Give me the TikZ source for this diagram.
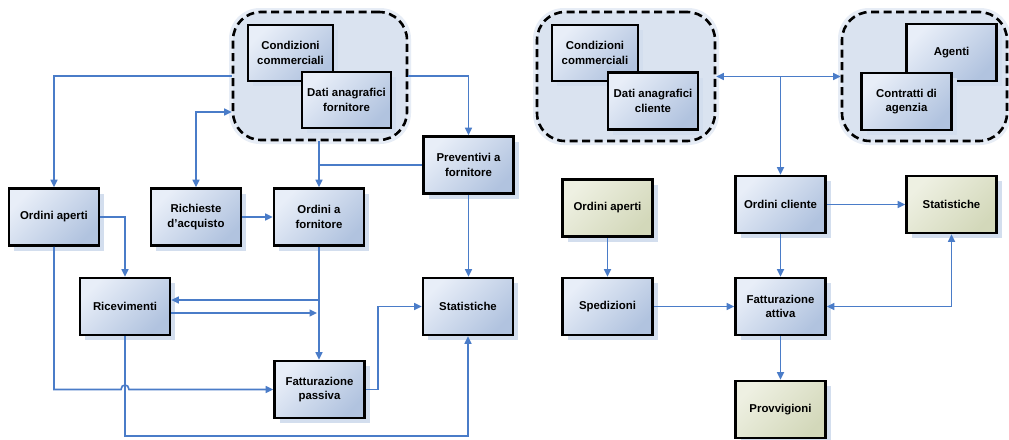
\documentclass[tikz,border=0pt]{standalone}
\usepackage{fontspec}
\setmainfont{Liberation Sans}
\usetikzlibrary{arrows.meta,shadows,calc}

\definecolor{linkc}{HTML}{4A7CC8}
\definecolor{boxtop}{HTML}{E8EEF8}
\definecolor{boxbot}{HTML}{B1C3DF}
\definecolor{grntop}{HTML}{EEF0E2}
\definecolor{grnbot}{HTML}{D3D8BA}
\definecolor{shadowc}{HTML}{D3DEEE}
\definecolor{grpfill}{HTML}{DAE3F0}
\definecolor{grphalo}{HTML}{E7EDF6}

\tikzset{
  box/.style={draw=black, line width=2.6pt, minimum width=90pt, minimum height=57pt,
    inner sep=2pt, align=center, font=\fontsize{11.4}{14.3}\selectfont\bfseries,
    top color=boxtop, bottom color=boxbot, shading angle=45,
    drop shadow={shadow xshift=5pt, shadow yshift=-5pt, fill=shadowc, opacity=1}},
  gbox/.style={box, top color=grntop, bottom color=grnbot, shading angle=45},
  grp/.style={draw=black, line width=2.6pt, dash pattern=on 8pt off 4.5pt,
    rounded corners=28pt, fill=grpfill, inner sep=0pt},
  halo/.style={fill=grphalo, rounded corners=31pt, inner sep=0pt},
  link/.style={draw=linkc, line width=1.6pt},
  arr/.style={link, -{Triangle[length=7.5pt,width=7pt]}},
  arr2/.style={link, {Triangle[length=7.5pt,width=7pt]}-{Triangle[length=7.5pt,width=7pt]}},
}

\begin{document}
\begin{tikzpicture}[x=1pt, y=-1pt]
\fill[white] (0,0) rectangle (1009,439);
\useasboundingbox (0,0) rectangle (1009,439);

% ---------- purchasing side: supplier master data ----------
\node[halo, minimum width=182pt, minimum height=136pt] at (320,76) {};
\node[grp, minimum width=174pt, minimum height=128pt] (gF) at (320,76) {};
\node[box, minimum width=85pt, minimum height=56pt] (condF) at (290.5,53) {Condizioni\\commerciali};
\node[box, minimum width=89pt, minimum height=56pt] (datiF) at (346.5,100) {Dati anagrafici\\fornitore};

\node[box] (prev)  at (468.5,165)  {Preventivi a\\fornitore};
\node[box] (ordAp) at (54,217)     {Ordini aperti};
\node[box] (rich)  at (196,217)    {Richieste\\d'acquisto};
\node[box] (ordF)  at (319,217)    {Ordini a\\fornitore};
\node[box] (ricev) at (125,306.5)  {Ricevimenti};
\node[box] (statL) at (468,306.5)  {Statistiche};
\node[box] (fattP) at (319.5,389.5){Fatturazione\\passiva};

% ---------- sales side: customer and agent master data ----------
\node[halo, minimum width=186pt, minimum height=137pt] at (626,76.5) {};
\node[grp, minimum width=178pt, minimum height=129pt] (gC) at (626,76.5) {};
\node[box, minimum width=86pt, minimum height=56pt] (condC) at (595,53) {Condizioni\\commerciali};
\node[box] (datiC) at (653,101) {Dati anagrafici\\cliente};

\node[halo, minimum width=173pt, minimum height=137pt] at (924.5,76.5) {};
\node[grp, minimum width=165pt, minimum height=129pt] (gA) at (924.5,76.5) {};
\node[box] (agenti) at (951.5,52.5) {Agenti};
\node[box] (contr)  at (906.5,101.5) {Contratti di\\agenzia};

\node[box]  (ordCl)  at (780.5,204.5) {Ordini cliente};
\node[gbox] (statR)  at (951.5,204.5) {Statistiche};
\node[gbox] (ordApR) at (607.5,208)   {Ordini aperti};
\node[box]  (sped)   at (607.5,306.5) {Spedizioni};
\node[box]  (fattA)  at (780.5,306.5) {Fatturazione\\attiva};
\node[gbox] (provv)  at (780.5,409.5) {Provvigioni};

% ---------- purchasing connectors ----------
\draw[arr] (gF.west) -| (ordAp.north);
\draw[arr] (gF.east) -| (prev.north);
\draw[arr2] (rich.north) |- ([yshift=-36pt]gF.west);
\draw[arr] (gF.south -| ordF.north) -- (ordF.north);
\draw[link] (prev.west) -- (prev.west -| ordF.north);
\draw[arr] (rich.east) -- (ordF.west);
\draw[arr] (ordAp.east) -| (ricev.north);
\draw[arr] (ordF.south) -- (ordF.south |- fattP.north);
\coordinate (j1) at (319,300);
\coordinate (j2) at (317,313);
\draw[arr] (j1) -- (j1 -| ricev.east);
\draw[arr] (ricev.east |- j2) -- (j2);
\coordinate (hx) at (ricev.south |- fattP.west);
\draw[arr] (ordAp.south) |- ([xshift=-4pt]hx)
  .. controls ([xshift=-4pt,yshift=6pt]hx) and ([xshift=4pt,yshift=6pt]hx) .. ([xshift=4pt]hx)
  -- (fattP.west);
\coordinate (bot) at (300,436);
\draw[arr] (ricev.south) |- (bot) -| (statL.south);
\draw[arr] (fattP.east) -- ++(12,0) |- (statL.west);
\draw[arr] (prev.south) -- (prev.south |- statL.north);

% ---------- sales connectors ----------
\draw[arr2] (gC.east) -- (gA.west);
\draw[arr] (ordCl.north |- gC.east) -- (ordCl.north);
\draw[arr] (ordCl.east) -- (statR.west);
\draw[arr] (ordCl.south) -- (fattA.north);
\draw[arr] (ordApR.south) -- (sped.north);
\draw[arr] (sped.east) -- (fattA.west);
\draw[arr2] (statR.south) |- (fattA.east);
\draw[arr] (fattA.south) -- (provv.north);
\end{tikzpicture}
\end{document}
